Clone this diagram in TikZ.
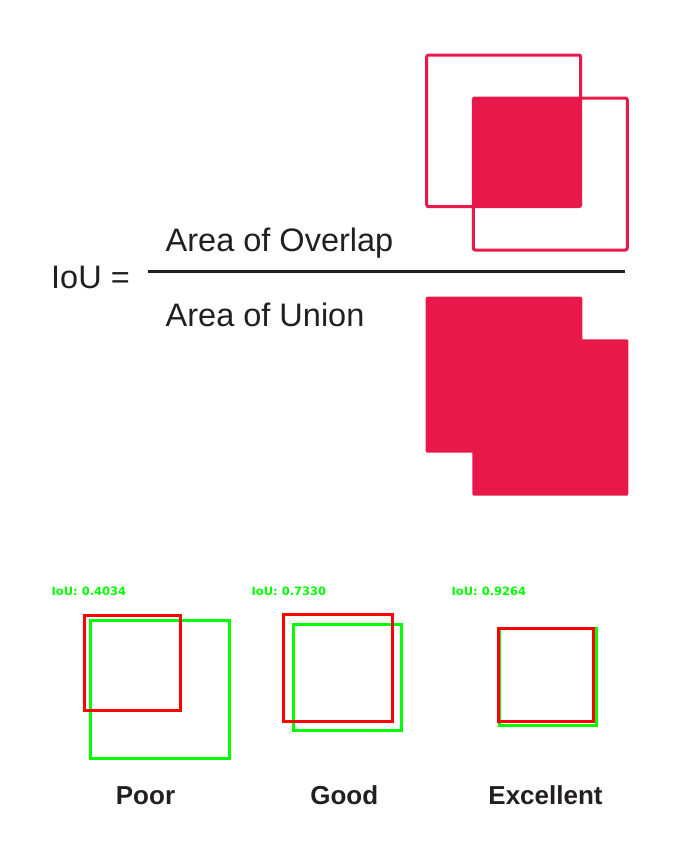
\documentclass[tikz,border=0pt]{standalone}
\usepackage{fontspec}
\setmainfont{Liberation Sans}
\newfontfamily\cvfont{DejaVu Sans}
\definecolor{crim}{HTML}{E8194A}
\definecolor{ink}{HTML}{231F20}
\definecolor{cvred}{HTML}{FF0000}
\definecolor{cvgreen}{HTML}{00FF00}
\begin{document}
\begin{tikzpicture}[x=1pt,y=-1pt,
  txt/.style={inner sep=0pt,anchor=base west,text=ink,font=\fontsize{32.5}{38}\selectfont},
  qual/.style={inner sep=0pt,anchor=base,text=ink,font=\fontsize{26}{30}\selectfont\bfseries},
  score/.style={inner sep=0pt,anchor=base west,text=cvgreen,font=\fontsize{11.5}{13}\selectfont\cvfont\bfseries},
  outl/.style={draw=crim,line width=3pt,rounded corners=2pt},
  filled/.style={fill=crim,rounded corners=2pt},
  gtbox/.style={draw=cvgreen,line width=3pt},
  prbox/.style={draw=cvred,line width=3pt}]
\useasboundingbox (0,0) rectangle (682,865);
% overlap illustration
\fill[filled] (473.3,98) rectangle (580.7,206.7);
\draw[outl] (426.7,55) rectangle (580.7,206.7);
\draw[outl] (473.3,98) rectangle (627.3,250);
% union illustration
\fill[filled] (425.7,296.7) rectangle (582.3,452.7);
\fill[filled] (472.3,339.3) rectangle (628.3,495.7);
% formula
\node[txt] (iou) at (51,288.5) {IoU =};
\node[txt] (num) at (165.5,251.5) {Area of Overlap};
\node[txt] (den) at (165.5,326.5) {Area of Union};
\coordinate (fl) at (148,271.7);
\coordinate (fr) at (625,271.7);
\draw[ink,line width=2.5pt] (fl) -- (fr);
% examples
\node[score] (s1) at (51.5,595.5) {IoU: 0.4034};
\node[score] (s2) at (251.5,595.5) {IoU: 0.7330};
\node[score] (s3) at (451.5,595.5) {IoU: 0.9264};
\draw[gtbox] (90.7,620.7) rectangle (229.3,758.3);
\draw[prbox] (84.3,615.3) rectangle (180.7,710.3);
\draw[gtbox] (293.3,624) rectangle (401.7,730.7);
\draw[prbox] (283.7,614) rectangle (392.3,721.7);
\draw[gtbox] (499,628.3) rectangle (596.7,725.7);
\draw[prbox] (498.3,628.3) rectangle (593.3,721.7);
\node[qual] (poor) at (145.5,804.3) {Poor};
\node[qual] (good) at (344.3,804.3) {Good};
\node[qual] (exc) at (545.5,804.3) {Excellent};
\end{tikzpicture}
\end{document}
